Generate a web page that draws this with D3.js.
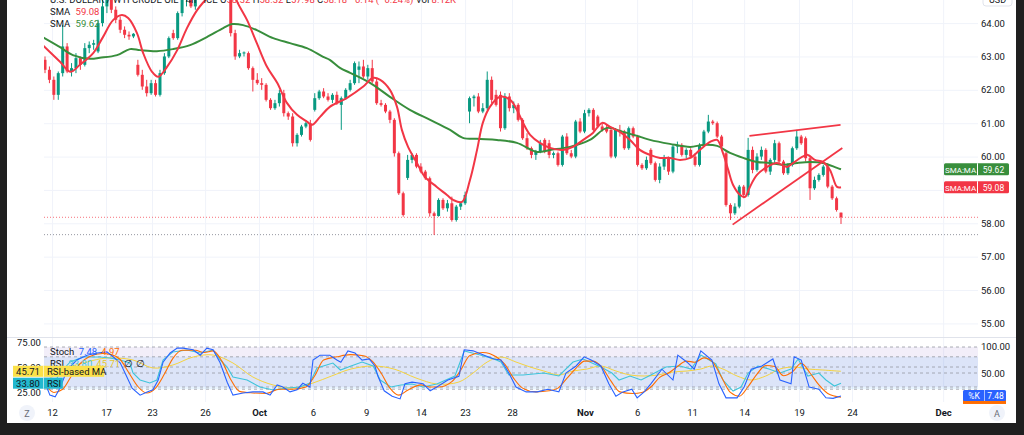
<!DOCTYPE html>
<html>
<head>
<meta charset="utf-8">
<script src="https://cdn.jsdelivr.net/npm/d3@7"></script>
<style>
  html, body { margin: 0; padding: 0; background: #1f1f1f; overflow: hidden; }
  svg { display: block; }
  text { font-family: Roboto, "Noto Sans", sans-serif; }
</style>
</head>
<body>
<svg id="chart" width="1024" height="435"></svg>
<script>
// ---- data: WTI crude 4h candles ----
const opens = [62.9,62.6,62.3,61.85,62.5,63.3,62.55,62.65,62.95,62.75,63.25,63.35,63.15,64.0,64.5,64.75,64.4,64.1,63.8,63.65,63.6,
  62.75,62.45,62.1,61.9,62.2,61.85,62.5,63.0,63.7,63.55,64.3,64.7,64.9,64.5,64.9,65.2,65.5,65.3,65.6,65.35,65.1,65.0,63.7,63.0,63.1,
  63.1,62.65,62.3,62.2,62.15,61.7,61.45,61.6,61.9,61.3,61.2,60.4,60.65,60.9,61.0,61.4,61.75,61.95,61.8,61.7,61.85,61.55,61.75,62.0,
  62.2,62.6,62.7,62.4,62.65,62.25,61.6,61.55,61.35,61.1,60.1,58.9,59.36,59.9,60.05,59.7,59.55,59.35,58.3,58.22,58.7,58.45,58.6,58.1,
  58.5,58.6,61.35,61.75,61.8,61.35,61.45,62.3,61.85,61.85,60.85,61.8,61.45,61.55,61.1,60.55,60.25,60.05,60.15,60.5,60.4,60.05,60.1,
  59.75,60.6,60.1,60.0,61.05,60.75,61.3,61.4,61.2,60.9,60.85,60.8,60.0,60.8,60.75,60.25,60.85,60.6,59.75,59.65,60.2,59.8,59.3,59.7,
  59.95,59.55,60.3,60.35,60.05,60.2,60.0,59.75,60.35,60.75,61.05,61.0,60.6,60.1,58.55,58.3,58.5,59.1,58.85,60.2,59.6,60.0,60.2,59.55,
  59.9,60.4,59.85,59.5,59.75,60.25,60.6,60.55,59.95,59.05,59.3,59.45,59.7,59.1,58.75,58.32];
const highs = [63.0,62.7,62.4,62.55,63.95,63.4,62.8,63.1,63.0,63.4,63.45,63.5,64.1,64.7,65.0,64.9,64.5,64.2,63.9,63.75,63.7,
  62.9,62.6,62.3,62.3,62.3,62.6,63.1,63.6,63.8,64.35,64.9,65.1,65.0,65.0,65.4,65.7,65.7,65.9,65.8,65.5,65.5,65.2,63.8,63.2,63.15,
  63.15,62.7,62.5,62.35,62.2,61.75,61.7,62.0,62.0,61.35,61.3,60.7,60.95,61.05,61.1,61.9,62.0,62.05,61.9,61.9,61.95,61.8,62.05,62.3,
  62.85,62.85,62.9,62.75,62.9,62.35,61.7,61.6,61.4,61.15,60.15,58.95,60.05,60.1,60.1,59.8,59.6,59.4,58.35,58.75,58.75,58.7,58.8,58.55,
  58.65,58.95,61.8,61.85,61.9,61.6,62.55,62.4,62.0,61.95,61.9,61.9,61.65,61.6,61.15,60.7,60.3,60.2,60.5,60.55,60.5,60.15,60.15,
  60.65,60.7,60.2,61.1,61.15,61.4,61.45,61.45,61.25,61.0,60.95,60.85,60.85,60.95,60.8,60.9,60.9,60.65,59.8,60.0,60.25,59.85,59.8,
  60.05,60.0,60.35,60.45,60.4,60.25,60.25,60.1,60.4,60.8,61.25,61.1,61.05,60.65,60.15,58.6,58.6,59.15,59.15,60.56,60.3,60.1,60.3,60.25,
  59.95,60.5,60.45,59.9,59.8,60.3,60.8,60.65,60.6,60.0,59.4,59.5,59.75,59.8,59.15,58.8,58.32];
const lows = [62.5,62.2,61.7,61.7,62.4,62.5,62.4,62.5,62.6,62.7,63.1,63.2,63.1,63.9,64.3,64.3,64.0,63.7,63.55,63.5,63.55,
  62.4,62.0,61.8,61.85,61.8,61.8,62.45,62.95,63.5,63.5,64.2,64.5,64.45,64.4,64.8,65.0,65.1,65.2,65.2,64.9,64.9,63.6,62.9,62.95,63.0,
  62.6,61.95,62.15,62.0,61.65,61.4,61.4,61.5,61.2,61.1,60.3,60.3,60.6,60.85,60.45,61.35,61.7,61.75,61.65,61.6,61.55,60.8,61.7,61.95,
  62.15,62.2,62.35,62.3,62.2,61.55,61.5,61.3,61.0,60.0,58.85,58.2,59.3,59.8,59.65,59.5,59.3,58.2,57.65,58.2,58.4,58.35,58.05,58.05,
  58.4,58.55,61.0,61.5,61.3,61.3,61.4,61.6,61.5,60.75,60.8,61.35,61.3,61.05,60.5,60.2,59.95,59.9,60.1,60.1,59.95,59.95,59.7,
  59.7,60.05,59.95,59.95,60.7,60.7,61.2,60.75,60.85,60.75,60.7,59.95,59.95,60.6,60.2,60.2,60.55,59.7,59.6,59.6,59.75,59.25,59.2,
  59.6,59.45,59.5,60.1,60.0,59.95,59.95,59.7,59.7,60.3,60.7,60.95,60.55,60.25,58.5,58.1,58.25,58.45,58.75,58.8,59.5,59.55,59.9,59.5,
  59.45,59.8,59.8,59.45,59.45,59.7,60.2,60.35,59.85,58.7,59.0,59.25,59.4,59.05,58.7,58.35,57.98];
const closes = [62.6,62.3,61.85,62.5,63.3,62.55,62.65,62.95,62.75,63.25,63.35,63.4,64.0,64.5,64.75,64.4,64.1,63.8,63.65,63.6,63.68,
  62.45,62.1,61.9,62.2,61.85,62.5,63.0,63.55,63.55,64.3,64.7,64.9,64.5,64.9,65.2,65.5,65.3,65.6,65.35,65.1,65.3,63.7,63.0,63.1,63.12,
  62.65,62.3,62.2,62.15,61.7,61.45,61.6,61.9,61.3,61.2,60.4,60.65,60.9,61.0,60.5,61.75,61.95,61.8,61.7,61.85,61.6,61.75,62.0,62.2,
  62.8,62.7,62.4,62.65,62.25,61.6,61.55,61.35,61.1,60.1,58.9,58.25,59.9,60.05,59.7,59.55,59.35,58.3,58.22,58.7,58.45,58.6,58.1,58.5,
  58.6,58.85,61.75,61.8,61.35,61.45,62.3,61.7,61.55,60.85,61.8,61.45,61.55,61.1,60.55,60.25,60.05,60.15,60.4,60.15,60.05,60.1,59.75,
  60.6,60.1,60.0,61.05,60.75,61.3,61.4,60.8,60.9,60.8,60.75,60.0,60.8,60.75,60.25,60.85,60.6,59.75,59.65,59.9,59.8,59.3,59.7,
  59.95,59.55,60.3,60.35,60.05,60.2,60.0,59.75,60.35,60.75,61.05,61.0,60.6,60.3,58.55,58.3,58.5,59.1,58.85,60.2,59.6,60.0,60.2,59.55,
  59.9,60.4,59.85,59.5,59.75,60.25,60.6,60.4,59.95,59.05,59.3,59.45,59.7,59.1,58.75,58.4,58.18];

// moving averages: [bar index, price]
const smaFast = [[-0.5,63.34],[3.4,62.84],[5.7,62.54],[7.9,62.75],[10.9,63.1],[13.1,63.58],[15.4,64.09],[17.4,64.24],[18.8,64.15],
  [20.8,63.7],[22.2,63.1],[24.2,62.54],[25.6,62.39],[27.6,62.69],[29.9,63.19],[32.1,63.85],[34.4,64.39],[36.6,64.75],[38.6,65.1],
  [40.7,65.2],[42.3,65.0],[43.6,64.6],[45.7,64.09],[47.9,63.4],[50.2,62.69],[52.5,62.21],[54.7,61.61],[57.0,61.25],[59.3,61.04],
  [60.4,60.95],[62.2,61.19],[64.4,61.49],[68.3,61.76],[71.9,62.09],[74.2,62.36],[75.8,62.3],[78.0,62.0],[79.6,61.49],[80.7,60.8],
  [82.1,60.29],[84.1,59.81],[85.9,59.39],[88.6,59.09],[90.9,58.85],[92.3,58.7],[94.3,58.64],[96.1,59.3],[97.7,60.2],[99.0,61.01],
  [100.6,61.49],[102.9,61.79],[105.2,61.7],[106.7,61.4],[108.1,61.01],[109.7,60.65],[111.9,60.41],[114.2,60.26],[117.1,60.2],
  [119.4,60.29],[121.7,60.5],[123.9,60.71],[126.0,61.01],[127.8,60.89],[130.0,60.74],[132.3,60.5],[134.5,60.2],[136.8,60.05],
  [139.1,59.96],[141.3,59.96],[143.6,59.9],[145.9,59.96],[148.1,60.2],[150.4,60.44],[152.0,60.5],[153.3,60.11],[154.5,59.6],
  [155.6,59.15],[157.2,58.85],[158.3,58.79],[159.4,59.09],[161.0,59.45],[163.3,59.69],[165.5,59.81],[167.8,59.69],[169.2,59.81],
  [171.2,59.99],[172.5,60.05],[174.1,59.9],[175.9,59.84],[177.5,59.6],[179.1,59.09],[180,59.08]];
const smaSlow = [[-0.5,63.58],[3.4,63.28],[6.3,63.04],[10.2,62.93],[12.4,62.96],[16.3,63.04],[19.2,63.22],[21.5,63.19],[25.3,63.16],
  [28.9,63.22],[32.8,63.34],[36.6,63.58],[40.3,63.85],[42.3,63.97],[44.8,63.94],[47.9,63.79],[51.6,63.55],[55.4,63.4],[59.2,63.25],
  [62.9,62.99],[64.4,62.9],[66.7,62.66],[69.0,62.51],[73.5,62.21],[78.0,61.79],[82.5,61.4],[87.1,61.1],[91.6,60.8],[94.5,60.56],
  [98.4,60.53],[102.2,60.5],[106.7,60.41],[111.3,60.14],[114.2,60.2],[118.7,60.29],[123.2,60.5],[127.1,60.86],[130.7,60.74],
  [134.6,60.59],[136.8,60.5],[141.3,60.38],[145.9,60.29],[148.8,60.35],[152.0,60.32],[154.9,60.11],[157.9,59.96],[161.0,59.84],
  [163.9,59.81],[166.9,59.75],[170.1,59.81],[173.0,59.84],[175.9,59.81],[179.1,59.66],[180,59.62]];

// triangle drawn on the chart: [bar index, price] pairs
const trendLines = [[[159.3,60.62],[179.9,60.95]], [[155.5,57.96],[180.3,60.26]]];
const lastPrice = 58.18;
const lowLine = 57.66;

// oscillators: [bar index, value]
const stochK = [[0.5,22],[1.1,9],[2.3,6],[3.4,22],[5.0,56],[7.2,74],[9.5,83],[11.8,87],[14.0,89],[15.4,80],[17.0,69],[18.1,50],
  [19.7,22],[21.5,9],[23.1,15],[24.4,19],[25.6,37],[26.7,70],[28.3,87],[29.9,96],[31.2,96],[33.5,93],[35.1,83],[36.6,96],[38.0,93],
  [39.6,69],[41.2,33],[42.5,9],[44.8,13],[47.0,15],[49.3,15],[50.9,9],[52.5,28],[53.8,24],[55.4,15],[57.0,19],[58.3,31],[59.9,24],
  [60.6,74],[62.2,83],[64.4,83],[66.0,74],[66.9,70],[68.5,91],[70.1,87],[71.7,74],[73.3,76],[74.6,63],[75.3,44],[76.7,17],[78.5,7],
  [80.3,2],[81.4,30],[83.0,33],[85.5,30],[87.1,17],[88.6,24],[91.1,37],[93.6,44],[94.8,93],[96.8,91],[99.3,83],[101.5,76],[103.1,74],
  [104.9,50],[106.5,24],[108.8,15],[111.3,15],[113.7,20],[116.2,15],[117.8,50],[120.1,63],[121.9,80],[123.5,74],[125.7,63],[127.5,30],
  [129.1,7],[130.7,15],[132.7,20],[133.9,4],[135.5,15],[137.0,30],[139.5,57],[142.0,37],[143.1,83],[145.2,70],[146.8,57],[148.3,91],
  [150.8,74],[152.4,30],[154.0,4],[156.5,4],[158.1,24],[159.7,57],[162.1,63],[164.6,76],[166.2,37],[168.7,30],[169.4,80],[171.0,74],
  [172.8,24],[175.0,20],[176.6,4],[178.2,3],[180,7.48]];
const stochD = [[0,30],[2,14],[4,20],[6,45],[8,68],[10,80],[13,86],[15,84],[17,75],[19,50],[21,25],[23,13],[25,22],[27,48],[29,78],
  [31,92],[34,92],[36,88],[38,91],[40,72],[42,38],[44,16],[47,13],[50,12],[53,20],[56,20],[59,24],[61,45],[63,74],[66,80],[69,84],
  [72,82],[74,72],[76,50],[78,22],[80,9],[82,18],[85,28],[87,24],[89,24],[92,34],[94,55],[96,82],[99,88],[102,80],[104,66],[106,40],
  [108,22],[111,15],[114,17],[116,22],[118,40],[120,58],[122,72],[124,72],[126,60],[128,35],[130,15],[133,12],[135,14],[137,24],
  [139,42],[141,50],[143,62],[145,72],[147,70],[149,78],[151,70],[153,42],[155,14],[157,7],[159,25],[161,48],[163,64],[165,62],
  [167,45],[169,52],[171,68],[173,50],[175,28],[177,12],[180,4.97]];
const rsi = [[0.5,27],[1.8,32],[3.4,44],[5.7,55],[8.6,60],[12.4,60],[14.7,59],[17.0,57],[19.2,54],[19.9,44],[21.5,37],[23.7,34],
  [25.3,37],[26.7,57],[28.9,65],[32.1,67],[35.1,64],[38.0,67],[39.6,57],[41.2,50],[42.5,40],[45.7,37],[48.6,30],[51.6,27],[54.7,29],
  [57.7,30],[59.9,34],[61.5,49],[65.1,54],[66.8,47],[69.2,51],[71.7,55],[74.2,51],[75.8,37],[78.2,30],[80.5,32],[83.0,33],[85.5,30],
  [88.6,33],[92.7,41],[94.8,66],[98.4,62],[101.5,58],[103.1,55],[104.9,42],[108.1,42],[112.8,44],[116.2,41],[119.4,55],[121.7,58],
  [124.2,53],[125.7,50],[128.2,44],[129.8,37],[132.3,41],[134.8,37],[137.0,42],[140.4,50],[143.6,51],[146.1,48],[148.3,62],
  [151.7,53],[153.3,37],[155.6,26],[157.4,30],[159.0,44],[161.2,51],[163.7,48],[166.2,44],[168.7,48],[170.3,58],[172.5,41],
  [175.0,44],[176.6,37],[178.5,31],[180,33.8]];
const rsiMa = [[0.5,37],[5.0,49],[9.5,55],[14.0,59],[19.9,57],[24.4,49],[28.9,52],[33.5,60],[38.0,62],[42.5,54],[47.0,40],[51.6,32],
  [56.1,29],[60.6,34],[64.8,41],[69.2,48],[74.2,51],[78.9,48],[83.9,39],[88.6,33],[93.6,35],[96.8,44],[100.0,55],[103.1,60],
  [106.5,55],[109.7,50],[112.8,46],[116.2,42],[119.4,46],[122.6,48],[125.7,51],[129.1,46],[132.3,42],[135.5,41],[138.6,42],
  [142.0,45],[145.2,46],[148.3,48],[150.8,51],[153.3,48],[156.5,41],[159.7,37],[163.0,41],[166.2,48],[169.4,50],[172.5,48],
  [175.9,47],[180,45.71]];

const priceTicks = [55, 56, 57, 58, 59, 60, 61, 62, 63, 64];
const timeTicks = [1.6, 13.8, 24.2, 36.2, 48.4, 60.6, 72.6, 85.0, 95.0, 105.6, 122.1, 133.9, 146.3, 158.1, 170.5, 182.5, 203.1];
const timeLabels = ["12","17","23","26","Oct","6","9","14","23","28","Nov","6","11","14","19","24","Dec"];
const monthLabels = ["Oct", "Nov", "Dec"];

// ---- layout ----
const UP = "#089981", DOWN = "#F23645", SLOW = "#388E3C";
const TXT = "#131722", GRID = "#F0F3FA";
const pane = { left: 44, right: 978, top: 0, bottom: 337 };
const osc = { top: 338, bottom: 402 };

const svg = d3.select("#chart");

svg.append("rect").attr("x", 7).attr("y", 0).attr("width", 1009).attr("height", 423).attr("fill", "#ffffff");

const x = d3.scaleLinear().domain([0, closes.length - 1]).range([45, 841]);
const y = d3.scaleLinear().domain([55, 64]).range([323.4, 23.1]);
const rsiY = d3.scaleLinear().domain([25, 75]).range([392, 342]);
const stochY = d3.scaleLinear().domain([0, 100]).range([400, 346]);

const defs = svg.append("defs");
defs.append("clipPath").attr("id", "clipMain").append("rect")
  .attr("x", pane.left).attr("y", pane.top).attr("width", pane.right - pane.left).attr("height", pane.bottom - pane.top);
defs.append("clipPath").attr("id", "clipOsc").append("rect")
  .attr("x", pane.left).attr("y", osc.top).attr("width", pane.right - pane.left).attr("height", osc.bottom - osc.top);

// grid
svg.append("g").attr("transform", `translate(${pane.right},0)`)
  .call(d3.axisLeft(y).tickValues(priceTicks).tickSize(pane.right - pane.left).tickFormat(""))
  .call(g => g.select(".domain").remove())
  .selectAll("line").attr("stroke", GRID);
svg.append("g")
  .call(d3.axisBottom(x).tickValues(timeTicks).tickSize(osc.bottom).tickFormat(""))
  .call(g => g.select(".domain").remove())
  .selectAll("line").attr("stroke", GRID);

// pane separator
svg.append("line").attr("x1", 7).attr("x2", 1016).attr("y1", pane.bottom + 0.5).attr("y2", pane.bottom + 0.5)
  .attr("stroke", "#E0E3EB");

// ---- main pane ----
const main = svg.append("g").attr("clip-path", "url(#clipMain)");

main.append("line").attr("x1", pane.left).attr("x2", pane.right)
  .attr("y1", y(lowLine)).attr("y2", y(lowLine))
  .attr("stroke", "#9598A1").attr("stroke-dasharray", "1,2");
main.append("line").attr("x1", pane.left).attr("x2", pane.right)
  .attr("y1", y(lastPrice)).attr("y2", y(lastPrice))
  .attr("stroke", DOWN).attr("stroke-opacity", 0.7).attr("stroke-dasharray", "1,2");

const idx = d3.range(closes.length);
const colorOf = i => closes[i] >= opens[i] ? UP : DOWN;

main.append("g").selectAll("line").data(idx).enter().append("line")
  .attr("x1", i => x(i)).attr("x2", i => x(i))
  .attr("y1", i => y(highs[i])).attr("y2", i => y(lows[i]))
  .attr("stroke", colorOf).attr("stroke-width", 1);

main.append("g").selectAll("rect").data(idx).enter().append("rect")
  .attr("x", i => x(i) - 1.5)
  .attr("y", i => y(Math.max(opens[i], closes[i])))
  .attr("width", 3)
  .attr("height", i => Math.max(1, Math.abs(y(opens[i]) - y(closes[i]))))
  .attr("fill", colorOf);

const priceLine = d3.line().x(d => x(d[0])).y(d => y(d[1])).curve(d3.curveCatmullRom);
main.append("path").datum(smaSlow).attr("d", priceLine)
  .attr("fill", "none").attr("stroke", SLOW).attr("stroke-width", 2);
main.append("path").datum(smaFast).attr("d", priceLine)
  .attr("fill", "none").attr("stroke", DOWN).attr("stroke-width", 2);

main.append("g").selectAll("line").data(trendLines).enter().append("line")
  .attr("x1", d => x(d[0][0])).attr("y1", d => y(d[0][1]))
  .attr("x2", d => x(d[1][0])).attr("y2", d => y(d[1][1]))
  .attr("stroke", DOWN).attr("stroke-width", 1.8);

// price axis
svg.append("g").attr("transform", "translate(979,0)")
  .call(d3.axisRight(y).tickValues(priceTicks).tickFormat(d3.format(".2f")).tickSize(0).tickPadding(2))
  .call(g => g.select(".domain").remove())
  .selectAll("text").attr("font-size", 9.5).attr("fill", TXT).attr("font-family", "Roboto, sans-serif");

// USD tag
svg.append("rect").attr("x", 983).attr("y", -7).attr("width", 29).attr("height", 13).attr("rx", 3)
  .attr("fill", "#fff").attr("stroke", "#E0E3EB");
svg.append("text").attr("x", 997.5).attr("y", 3).attr("text-anchor", "middle")
  .attr("font-size", 9).attr("fill", TXT).text("USD");

// SMA price tags
function tag(v, color) {
  const cy = y(v);
  svg.append("rect").attr("x", 944).attr("y", cy - 6).attr("width", 65).attr("height", 12).attr("rx", 1.5).attr("fill", color);
  svg.append("line").attr("x1", 977.5).attr("x2", 977.5).attr("y1", cy - 6).attr("y2", cy + 6).attr("stroke", "#fff");
  svg.append("text").attr("x", 960.5).attr("y", cy + 3.3).attr("text-anchor", "middle")
    .attr("font-size", 8).attr("fill", "#fff").text("SMA:MA");
  svg.append("text").attr("x", 993.5).attr("y", cy + 3.3).attr("text-anchor", "middle")
    .attr("font-size", 8.5).attr("fill", "#fff").text(v.toFixed(2));
}
tag(smaSlow[smaSlow.length - 1][1], SLOW);
tag(smaFast[smaFast.length - 1][1], DOWN);

// legend
const lg = svg.append("g").attr("font-size", 9.5);
const l1 = lg.append("text").attr("x", 50).attr("y", 3).attr("fill", TXT);
l1.append("tspan").text("U.S. DOLLAR / WTI CRUDE OIL · 4h · ICE  ");
[["O", opens], ["H", highs], ["L", lows], ["C", closes]].forEach(([k, arr]) => {
  l1.append("tspan").attr("fill", TXT).text(" " + k);
  l1.append("tspan").attr("fill", DOWN).text(arr[arr.length - 1].toFixed(2));
});
l1.append("tspan").attr("fill", DOWN).text("  −0.14 (−0.24%)");
l1.append("tspan").attr("fill", TXT).text("  Vol ");
l1.append("tspan").attr("fill", DOWN).text("8.12K");

const l2 = lg.append("text").attr("x", 50).attr("y", 15).attr("fill", TXT);
l2.append("tspan").text("SMA ");
l2.append("tspan").attr("fill", DOWN).attr("dx", 3).text(smaFast[smaFast.length - 1][1].toFixed(2));
const l3 = lg.append("text").attr("x", 50).attr("y", 27).attr("fill", TXT);
l3.append("tspan").text("SMA ");
l3.append("tspan").attr("fill", SLOW).attr("dx", 3).text(smaSlow[smaSlow.length - 1][1].toFixed(2));

// ---- oscillator pane ----
const og = svg.append("g").attr("clip-path", "url(#clipOsc)");
og.append("rect").attr("x", pane.left).attr("width", pane.right - pane.left)
  .attr("y", rsiY(70)).attr("height", rsiY(30) - rsiY(70)).attr("fill", "rgba(126,87,194,0.1)");
og.append("rect").attr("x", pane.left).attr("width", pane.right - pane.left)
  .attr("y", stochY(80)).attr("height", stochY(20) - stochY(80)).attr("fill", "rgba(33,150,243,0.1)");
[rsiY(70), rsiY(50), rsiY(30), stochY(80), stochY(50), stochY(20)].forEach(v => {
  og.append("line").attr("x1", pane.left).attr("x2", pane.right).attr("y1", v).attr("y2", v)
    .attr("stroke", "#9598A1").attr("stroke-dasharray", "3,3").attr("stroke-width", 0.8);
});

const rsiLine = d3.line().x(d => x(d[0])).y(d => rsiY(d[1]));
const rsiSmooth = d3.line().x(d => x(d[0])).y(d => rsiY(d[1])).curve(d3.curveCatmullRom);
const stLine = d3.line().x(d => x(d[0])).y(d => stochY(d[1]));
const stSmooth = d3.line().x(d => x(d[0])).y(d => stochY(d[1])).curve(d3.curveMonotoneX);

og.append("path").datum(rsiMa).attr("d", rsiSmooth)
  .attr("fill", "none").attr("stroke", "#F5D33F").attr("stroke-width", 1);
og.append("path").datum(rsi).attr("d", rsiLine)
  .attr("fill", "none").attr("stroke", "#3FC4DA").attr("stroke-width", 1.1);
og.append("path").datum(stochD).attr("d", stSmooth)
  .attr("fill", "none").attr("stroke", "#FF6D00").attr("stroke-width", 1.1);
og.append("path").datum(stochK).attr("d", stLine)
  .attr("fill", "none").attr("stroke", "#2962FF").attr("stroke-width", 1.1);

// oscillator scales
svg.append("g").attr("transform", "translate(15,0)")
  .call(d3.axisRight(rsiY).tickValues([75, 50, 25]).tickFormat(d3.format(".2f")).tickSize(0).tickPadding(2))
  .call(g => g.select(".domain").remove())
  .selectAll("text").attr("font-size", 9.5).attr("fill", TXT);
svg.append("g").attr("transform", "translate(979,0)")
  .call(d3.axisRight(stochY).tickValues([100, 50]).tickFormat(d3.format(".2f")).tickSize(0).tickPadding(2))
  .call(g => g.select(".domain").remove())
  .selectAll("text").attr("font-size", 9.5).attr("fill", TXT);

// oscillator legend
const kLast = stochK[stochK.length - 1][1], dLast = stochD[stochD.length - 1][1];
const rLast = rsi[rsi.length - 1][1], mLast = rsiMa[rsiMa.length - 1][1];
const o1 = svg.append("text").attr("x", 50).attr("y", 355).attr("font-size", 9.5).attr("fill", TXT);
o1.append("tspan").text("Stoch ");
o1.append("tspan").attr("dx", 2).attr("fill", "#2962FF").text(kLast.toFixed(2));
o1.append("tspan").attr("dx", 4).attr("fill", "#FF6D00").text(dLast.toFixed(2));
const o2 = svg.append("text").attr("x", 50).attr("y", 367).attr("font-size", 9.5).attr("fill", TXT);
o2.append("tspan").text("RSI ");
o2.append("tspan").attr("dx", 2).attr("fill", "#3FC4DA").text(rLast.toFixed(2));
o2.append("tspan").attr("dx", 4).attr("fill", "#E8C72E").text(mLast.toFixed(2));
o2.append("tspan").attr("dx", 4).text("∅  ∅");

// left tags for RSI
function leftTag(v, label, color) {
  const cy = rsiY(v);
  svg.append("rect").attr("x", 13).attr("y", cy - 5.5).attr("width", 30 + label.length * 4.6 + 6).attr("height", 11).attr("fill", color);
  svg.append("line").attr("x1", 43.5).attr("x2", 43.5).attr("y1", cy - 5.5).attr("y2", cy + 5.5).attr("stroke", "#fff").attr("stroke-opacity", 0.6);
  svg.append("text").attr("x", 28).attr("y", cy + 3.3).attr("text-anchor", "middle")
    .attr("font-size", 9.5).attr("fill", TXT).text(v.toFixed(2));
  svg.append("text").attr("x", 47).attr("y", cy + 3.3)
    .attr("font-size", 9.5).attr("fill", TXT).text(label);
}
leftTag(mLast, "RSI-based MA", "#FBE14A");
leftTag(rLast, "RSI", "#22B8CF");

// right %K tag
{
  const cy = stochY(kLast);
  svg.append("rect").attr("x", 963).attr("y", cy + 4).attr("width", 43).attr("height", 4).attr("fill", "#FF6D00");
  svg.append("rect").attr("x", 963).attr("y", cy - 6).attr("width", 43).attr("height", 11).attr("rx", 1.5).attr("fill", "#2962FF");
  svg.append("line").attr("x1", 984.5).attr("x2", 984.5).attr("y1", cy - 6).attr("y2", cy + 5).attr("stroke", "#fff").attr("stroke-opacity", 0.6);
  svg.append("text").attr("x", 974).attr("y", cy + 3).attr("text-anchor", "middle")
    .attr("font-size", 8.5).attr("fill", "#fff").text("%K");
  svg.append("text").attr("x", 995.5).attr("y", cy + 3).attr("text-anchor", "middle")
    .attr("font-size", 8.5).attr("fill", "#fff").text(kLast.toFixed(2));
}

// ---- time axis ----
svg.append("g").attr("transform", "translate(0,409)")
  .call(d3.axisBottom(x).tickValues(timeTicks).tickFormat((d, i) => timeLabels[i]).tickSize(0).tickPadding(0))
  .call(g => g.select(".domain").remove())
  .selectAll("text")
  .attr("font-size", 9.5).attr("fill", TXT)
  .attr("font-weight", (d, i) => monthLabels.includes(timeLabels[i]) ? 700 : 400);

// corner buttons
[[27, "Z"], [997, "A"]].forEach(([cx, t]) => {
  svg.append("circle").attr("cx", cx).attr("cy", 413).attr("r", 8).attr("fill", "#F0F3FA");
  svg.append("text").attr("x", cx).attr("y", 416.5).attr("text-anchor", "middle")
    .attr("font-size", 9).attr("fill", "#6A6D78").text(t);
});
</script>
</body>
</html>
